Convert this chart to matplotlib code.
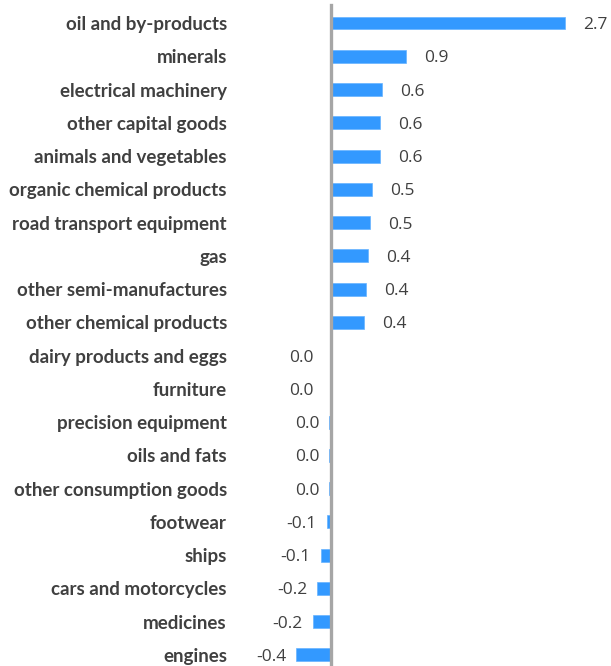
import matplotlib.pyplot as plt

categories = ["oil and by-products", "minerals", "electrical machinery",
              "other capital goods", "animals and vegetables",
              "organic chemical products", "road transport equipment", "gas",
              "other semi-manufactures", "other chemical products",
              "dairy products and eggs", "furniture", "precision equipment",
              "oils and fats", "other consumption goods", "footwear", "ships",
              "cars and motorcycles", "medicines", "engines"]
values = [2.70, 0.87, 0.59, 0.57, 0.57, 0.47, 0.45, 0.43, 0.40, 0.38,
          -0.001, -0.001, -0.02, -0.02, -0.02, -0.05, -0.12, -0.16, -0.21, -0.40]

W, H = 611, 666
fig = plt.figure(figsize=(W / 100, H / 100), dpi=100)
ax = fig.add_axes([240 / W, 0, 371 / W, 1])

pos = list(range(len(categories)))
ax.barh(pos, values, height=0.39, color="#3399FF", edgecolor="#66B3FF", linewidth=0.5, zorder=2)

# zero at 331px, 86.7 px per unit
ax.set_xlim((240 - 331) / 86.7, (611 - 331) / 86.7)
ax.set_ylim((666 - 23) / 33.26, -23 / 33.26)
ax.axvline(0, ymin=0, ymax=1 - 5 / H, color="#A6A6A6", lw=2.4, zorder=3)

for p, v in zip(pos, values):
    txt = f"{abs(v):.1f}" if round(v, 1) == 0 else f"{v:.1f}"
    if v > 0:
        ax.annotate(txt, (v, p), xytext=(18 * 0.72, -2 * 0.72), textcoords="offset points",
                    ha="left", va="center", fontsize=12.5, color="#404040", family="Open Sans")
    else:
        off = -17 if v > -0.01 else -10
        ax.annotate(txt, (v, p), xytext=(off * 0.72, -2 * 0.72), textcoords="offset points",
                    ha="right", va="center", fontsize=12.5, color="#404040", family="Open Sans")

ax.set_yticks(pos)
ax.set_yticklabels(categories, fontsize=13.5, fontweight="bold", color="#404040", family="Lato")
ax.tick_params(axis="y", length=0, pad=13 * 0.72)
ax.set_xticks([])
for s in ax.spines.values():
    s.set_visible(False)

fig.savefig("out.png", dpi=100)
